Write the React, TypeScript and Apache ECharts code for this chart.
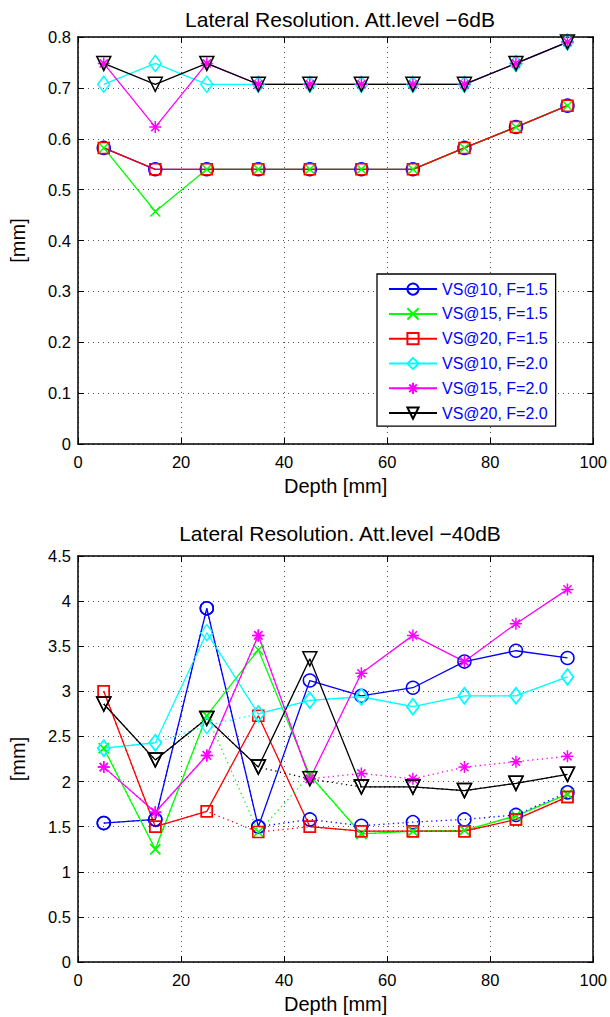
import React, { useEffect, useRef } from "react";
import * as echarts from "echarts";

const depth = [5, 15, 25, 35, 45, 55, 65, 75, 85, 95];

const seriesNames = [
  "VS@10, F=1.5",
  "VS@15, F=1.5",
  "VS@20, F=1.5",
  "VS@10, F=2.0",
  "VS@15, F=2.0",
  "VS@20, F=2.0",
];

// Top panel: Att.level -6dB
const top_vs10_f15 = [0.582, 0.540, 0.540, 0.540, 0.540, 0.540, 0.540, 0.582, 0.623, 0.665];
const top_vs15_f15 = [0.582, 0.457, 0.540, 0.540, 0.540, 0.540, 0.540, 0.582, 0.623, 0.665];
const top_vs20_f15 = [0.582, 0.540, 0.540, 0.540, 0.540, 0.540, 0.540, 0.582, 0.623, 0.665];
const top_vs10_f20 = [0.707, 0.748, 0.707, 0.707, 0.707, 0.707, 0.707, 0.707, 0.748, 0.790];
const top_vs15_f20 = [0.748, 0.623, 0.748, 0.707, 0.707, 0.707, 0.707, 0.707, 0.748, 0.790];
const top_vs20_f20 = [0.748, 0.707, 0.748, 0.707, 0.707, 0.707, 0.707, 0.707, 0.748, 0.790];

// Bottom panel: Att.level -40dB, solid traces
const bot_vs10_f15 = [1.54, 1.58, 3.92, 1.50, 3.12, 2.95, 3.04, 3.33, 3.45, 3.37];
const bot_vs15_f15 = [2.37, 1.25, 2.73, 3.46, 2.07, 1.42, 1.45, 1.46, 1.62, 1.86];
const bot_vs20_f15 = [3.00, 1.50, 1.67, 2.73, 1.50, 1.45, 1.45, 1.45, 1.58, 1.83];
const bot_vs10_f20 = [2.37, 2.43, 3.65, 2.75, 2.90, 2.94, 2.83, 2.95, 2.95, 3.16];
const bot_vs15_f20 = [2.16, 1.66, 2.29, 3.62, 2.03, 3.20, 3.62, 3.33, 3.75, 4.13];
const bot_vs20_f20 = [2.86, 2.24, 2.70, 2.16, 3.36, 1.94, 1.94, 1.90, 1.98, 2.08];

// Bottom panel: dotted traces
const dot_vs10_f15 = [1.54, 1.58, 3.92, 1.50, 1.58, 1.51, 1.55, 1.58, 1.63, 1.88];
const dot_vs15_f15 = [2.37, 1.25, 2.73, 1.44, 2.07, 1.42, 1.45, 1.46, 1.62, 1.86];
const dot_vs20_f15 = [3.00, 1.50, 1.67, 1.44, 1.50, 1.45, 1.45, 1.45, 1.58, 1.83];
const dot_vs10_f20 = [2.37, 2.43, 2.62, 2.75, 2.90, 2.94, 2.83, 2.95, 2.95, 3.16];
const dot_vs15_f20 = [2.16, 1.66, 2.29, 3.62, 2.03, 2.09, 2.03, 2.16, 2.22, 2.28];
const dot_vs20_f20 = [2.86, 2.24, 2.70, 2.16, 2.03, 1.94, 1.94, 1.90, 1.98, 2.08];

const topValues = [top_vs10_f15, top_vs15_f15, top_vs20_f15, top_vs10_f20, top_vs15_f20, top_vs20_f20];
const botValues = [bot_vs10_f15, bot_vs15_f15, bot_vs20_f15, bot_vs10_f20, bot_vs15_f20, bot_vs20_f20];
const dotValues = [dot_vs10_f15, dot_vs15_f15, dot_vs20_f15, dot_vs10_f20, dot_vs15_f20, dot_vs20_f20];

const titles = ["Lateral Resolution. Att.level \u22126dB", "Lateral Resolution. Att.level \u221240dB"];

const colors = ["#0000ff", "#00ff00", "#ff0000", "#00ffff", "#ff00ff", "#000000"];

const FONT = "'Liberation Sans', Arial, Helvetica, sans-serif";

const markers: any[] = [
  { symbol: "circle", size: 13, rotate: 0 },
  { symbol: "path://M0,0L10,10M10,0L0,10", size: 10, rotate: 0 },
  { symbol: "rect", size: 11, rotate: 0 },
  { symbol: "diamond", size: [12, 16], rotate: 0 },
  { symbol: "path://M5,0L5,10M0,5L10,5M1.6,1.6L8.4,8.4M8.4,1.6L1.6,8.4", size: 12, rotate: 0 },
  { symbol: "triangle", size: 14, rotate: 180 },
];

function makeSeries(name: string, idx: number, vals: number[], gridIdx: number, dotted: boolean) {
  const m = markers[idx];
  return {
    name,
    type: "line",
    xAxisIndex: gridIdx * 2,
    yAxisIndex: gridIdx * 2,
    data: depth.map((d, i) => [d, vals[i]]),
    symbol: m.symbol,
    symbolSize: m.size,
    symbolRotate: m.rotate,
    showAllSymbol: true,
    lineStyle: { color: colors[idx], width: 1.3, type: dotted ? [1.3, 3.5] : "solid" },
    itemStyle: { color: "none", borderColor: colors[idx], borderWidth: 1.5 },
    emphasis: { disabled: true },
    z: dotted ? 3 : 2,
  };
}

function axesFor(gridIdx: number, yMax: number, yInt: number) {
  const axisLine = { show: true, onZero: false, lineStyle: { color: "#000", width: 1.5 } };
  const tick = { show: true, inside: true, length: 6, lineStyle: { color: "#000", width: 1 } };
  const grid = { color: "#555", width: 1, type: [1, 4] as any };
  const x = [
    {
      type: "value", gridIndex: gridIdx, min: 0, max: 100, interval: 20, position: "bottom",
      axisLine, axisTick: tick,
      axisLabel: { color: "#000", fontSize: 16.5, fontFamily: FONT, margin: 9 },
      splitLine: { show: true, lineStyle: grid },
      name: "Depth [mm]", nameLocation: "middle", nameGap: 32,
      nameTextStyle: { color: "#000", fontSize: 20, fontFamily: FONT },
    },
    {
      type: "value", gridIndex: gridIdx, min: 0, max: 100, interval: 20, position: "top",
      axisLine, axisTick: tick, axisLabel: { show: false }, splitLine: { show: false },
    },
  ];
  const y = [
    {
      type: "value", gridIndex: gridIdx, min: 0, max: yMax, interval: yInt, position: "left",
      axisLine, axisTick: tick,
      axisLabel: { color: "#000", fontSize: 16.5, fontFamily: FONT, margin: 7 },
      splitLine: { show: true, lineStyle: grid },
      name: "[mm]", nameLocation: "middle", nameGap: 50,
      nameTextStyle: { color: "#000", fontSize: 20, fontFamily: FONT },
    },
    {
      type: "value", gridIndex: gridIdx, min: 0, max: yMax, interval: yInt, position: "right",
      axisLine, axisTick: tick, axisLabel: { show: false }, splitLine: { show: false },
    },
  ];
  return { x, y };
}

export default function App() {
  const ref = useRef<HTMLDivElement>(null);
  useEffect(() => {
    if (!ref.current) return;
    const chart = echarts.init(ref.current, undefined, { renderer: "svg" });
    const a0 = axesFor(0, 0.8, 0.1);
    const a1 = axesFor(1, 4.5, 0.5);
    const series: any[] = [];
    seriesNames.forEach((n, i) => series.push(makeSeries(n, i, topValues[i], 0, false)));
    seriesNames.forEach((n, i) => series.push(makeSeries(n, i, botValues[i], 1, false)));
    seriesNames.forEach((n, i) => series.push(makeSeries(n + " ", i, dotValues[i], 1, true)));
    chart.setOption({
      animation: false,
      backgroundColor: "#fff",
      textStyle: { fontFamily: FONT },
      title: [
        { text: titles[0], left: 335, top: 4, textAlign: "center", textStyle: { fontSize: 21, fontWeight: "normal", color: "#000", fontFamily: FONT } },
        { text: titles[1], left: 335, top: 518, textAlign: "center", textStyle: { fontSize: 21, fontWeight: "normal", color: "#000", fontFamily: FONT } },
      ],
      grid: [
        { left: 76, top: 37, width: 518, height: 407 },
        { left: 76, top: 556, width: 518, height: 406 },
      ],
      xAxis: [...a0.x, ...a1.x],
      yAxis: [...a0.y, ...a1.y],
      legend: {
        data: seriesNames,
        orient: "vertical",
        left: 377,
        top: 274,
        itemWidth: 48,
        itemHeight: 14,
        itemGap: 8.6,
        padding: [7, 8, 5, 11],
        backgroundColor: "#fff",
        borderColor: "#000",
        borderWidth: 1.3,
        selectedMode: false,
        textStyle: { color: "#0000ff", fontSize: 16, fontFamily: FONT },
        z: 10,
      },
      series,
    });
    return () => chart.dispose();
  }, []);
  return <div ref={ref} style={{ position: "absolute", left: 0, top: 0, width: 610, height: 1017 }} />;
}
